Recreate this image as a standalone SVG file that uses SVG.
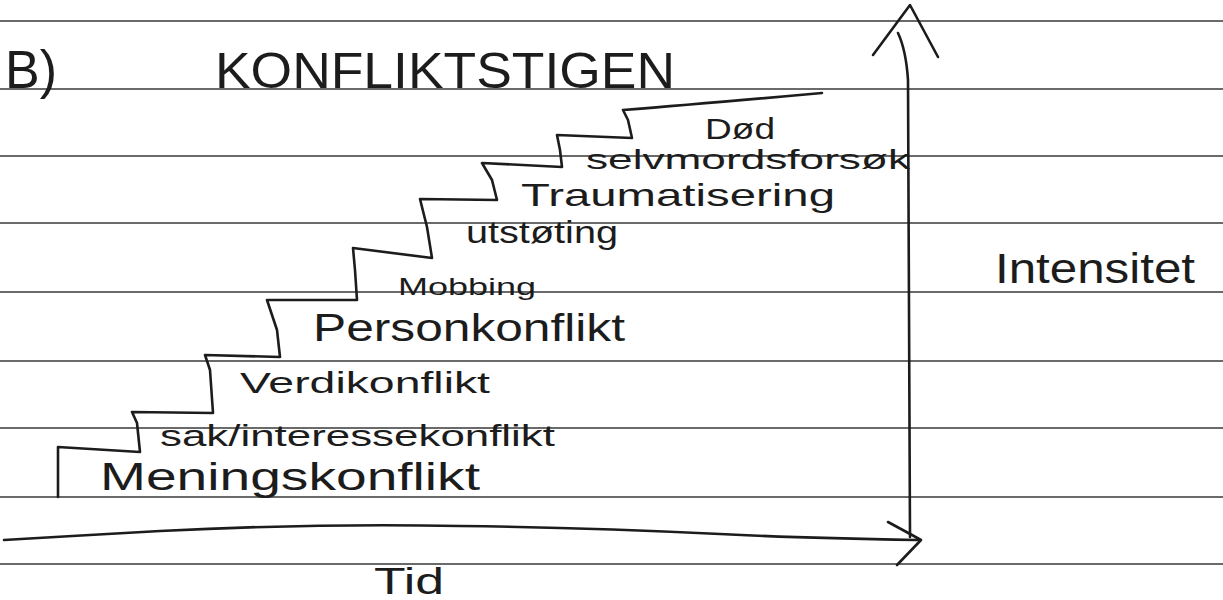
<svg xmlns="http://www.w3.org/2000/svg" width="1223" height="600" viewBox="0 0 1223 600">
<style>
.rule{stroke:#6a6a6a;stroke-width:2;fill:none}
.ink{stroke:#1c1c1c;stroke-width:2.6;fill:none;stroke-linecap:round;stroke-linejoin:round}
.t{font-family:"Liberation Sans","DejaVu Sans",sans-serif;fill:#1c1c1c}
</style>
<rect width="1223" height="600" fill="#ffffff"/>
<g id="paper-lines">
<line class="rule" x1="0" y1="21" x2="1223" y2="21"/>
<line class="rule" x1="0" y1="89" x2="1223" y2="89"/>
<line class="rule" x1="0" y1="156" x2="1223" y2="156"/>
<line class="rule" x1="0" y1="223" x2="1223" y2="223"/>
<line class="rule" x1="0" y1="292" x2="1223" y2="292"/>
<line class="rule" x1="0" y1="361" x2="1223" y2="361"/>
<line class="rule" x1="0" y1="428" x2="1223" y2="428"/>
<line class="rule" x1="0" y1="497" x2="1223" y2="497"/>
<line class="rule" x1="0" y1="564" x2="1223" y2="564"/>
</g>
<g id="connectors">
<g id="y-axis">
<path class="ink" d="M898,33 Q906,50 908,80 L910,537"/>
<path class="ink" d="M873,55 L910,5 L938,57"/>
</g>
<g id="x-axis">
<path class="ink" d="M4,540 C60,537 100,534 160,531 C260,526 360,524 460,526 C560,527 640,530 720,534 C800,538 860,539 918,540"/>
<path class="ink" d="M888,522 L912,535 L921,540 L897,565"/>
</g>
<g id="staircase">
<path class="ink" d="M58,497 L58,447 L140,452 L137,423 L132,412 L213,413 L210,370 L205,355 L280,357 L277,330 L267,300 L357,300 L355,270 L353,248 L432,258 L427,227 L420,199 L497,200 L492,180 L482,163 L562,167 L560,150 L557,135 L632,138 L628,120 L623,110 Q700,104 822,93"/>
</g>
</g>
<g id="title">
<text class="t" x="5" y="88" font-size="54" textLength="52" lengthAdjust="spacingAndGlyphs">B)</text>
<text class="t" x="215" y="88" font-size="50" textLength="460" lengthAdjust="spacingAndGlyphs">KONFLIKTSTIGEN</text>
</g>
<g id="step-dod"><text class="t" x="705" y="139" font-size="30" textLength="70" lengthAdjust="spacingAndGlyphs">Død</text></g>
<g id="step-selvmordsforsok"><text class="t" x="586" y="169" font-size="27" textLength="324" lengthAdjust="spacingAndGlyphs">selvmordsforsøk</text></g>
<g id="step-traumatisering"><text class="t" x="521" y="206" font-size="32" textLength="314" lengthAdjust="spacingAndGlyphs">Traumatisering</text></g>
<g id="step-utstoting"><text class="t" x="466" y="243" font-size="32" textLength="152" lengthAdjust="spacingAndGlyphs">utstøting</text></g>
<g id="step-mobbing"><text class="t" x="398" y="295" font-size="24" textLength="138" lengthAdjust="spacingAndGlyphs">Mobbing</text></g>
<g id="step-personkonflikt"><text class="t" x="313" y="341" font-size="38" textLength="312" lengthAdjust="spacingAndGlyphs">Personkonflikt</text></g>
<g id="step-verdikonflikt"><text class="t" x="240" y="393" font-size="30" textLength="250" lengthAdjust="spacingAndGlyphs">Verdikonflikt</text></g>
<g id="step-sak"><text class="t" x="160" y="446" font-size="30" textLength="395" lengthAdjust="spacingAndGlyphs">sak/interessekonflikt</text></g>
<g id="step-meningskonflikt"><text class="t" x="100" y="490" font-size="38" textLength="380" lengthAdjust="spacingAndGlyphs">Meningskonflikt</text></g>
<g id="label-intensitet"><text class="t" x="995" y="283" font-size="42" textLength="200" lengthAdjust="spacingAndGlyphs">Intensitet</text></g>
<g id="label-tid"><text class="t" x="374" y="594" font-size="36" textLength="70" lengthAdjust="spacingAndGlyphs">Tid</text></g>
</svg>
